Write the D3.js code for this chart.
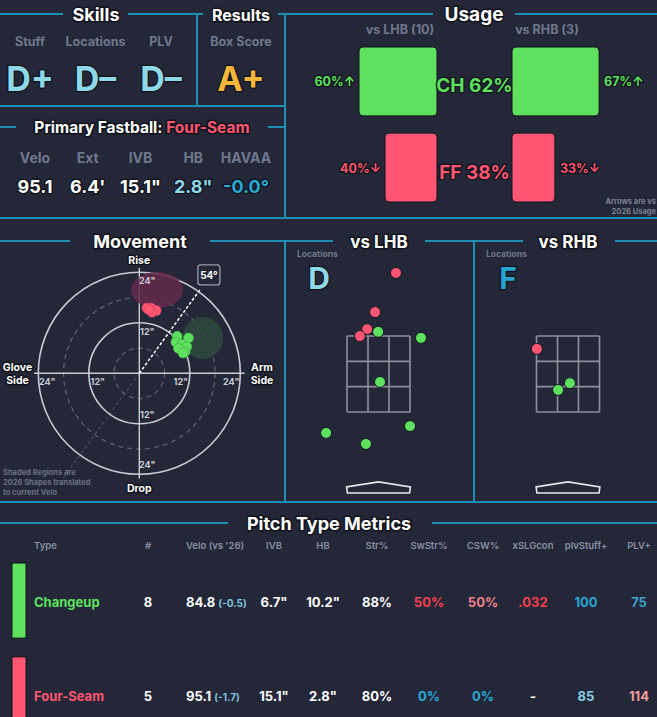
<!DOCTYPE html>
<html>
<head>
<meta charset="utf-8">
<script src="https://cdn.jsdelivr.net/npm/d3@7"></script>
<style>
body { margin: 0; background: #232738; }
svg { display: block; font-family: Inter, "Noto Sans", sans-serif; font-weight: 700; }
.ttl { fill: #fff; stroke: #11131b; stroke-width: 3px; paint-order: stroke; stroke-linejoin: round; }
.out { stroke: #11131b; stroke-width: 2.5px; paint-order: stroke; stroke-linejoin: round; }
</style>
</head>
<body>
<svg></svg>
<script>
var W = 657, H = 717;
var lineCol = "#1d8fb5", grey = "#6f778c";
var chCol = "#5fe15f", ffCol = "#ff5673";

// skills + results
var skillNames = ["Stuff", "Locations", "PLV"];
var skillGrades = ["D+", "D–", "D–"];
var resultNames = ["Box Score"];
var resultGrades = ["A+"];

// primary fastball
var fbName = "Four-Seam";
var fbStats = ["Velo", "Ext", "IVB", "HB", "HAVAA"];
var fbValues = ["95.1", "6.4'", "15.1\"", "2.8\"", "-0.0°"];

// usage (%)
var usagePitches = ["CH", "FF"];
var usageAll = [62, 38];
var usageLHB = [60, 40];
var usageRHB = [67, 33];
var arrowLHB = ["↑", "↓"];
var arrowRHB = ["↑", "↓"];
var countLHB = 10, countRHB = 3;

// movement (inches)
var chHB = [9.0, 11.7, 8.7, 10.1, 11.3, 9.3, 10.9, 10.4];
var chIVB = [8.8, 8.4, 7.4, 6.9, 6.3, 5.9, 5.1, 4.8];
var ffHB = [1.8, 2.8, 4.0, 3.0, 2.3];
var ffIVB = [15.5, 15.5, 14.9, 14.5, 15.1];
// shaded 2026 shapes: center hb, ivb, half widths
var shapePitches = ["FF", "CH"];
var shapeHB = [4.2, 15.1];
var shapeIVB = [19.8, 8.4];
var shapeRx = [6.2, 4.8];
var shapeRy = [4.3, 5.0];
var armAngle = 54;

// locations (feet)
var lhbType = ["FF", "FF", "FF", "FF", "CH", "CH", "CH", "CH", "CH", "CH"];
var lhbX = [0.46, -0.09, -0.30, -0.49, -0.01, 1.12, 0.04, -1.38, -0.33, 0.83];
var lhbZ = [5.16, 4.13, 3.68, 3.50, 3.61, 3.45, 2.29, 0.95, 0.66, 1.13];
var rhbType = ["FF", "CH", "CH"];
var rhbX = [-0.82, -0.26, 0.05];
var rhbZ = [3.16, 2.08, 2.26];
var locGrades = ["D", "F"];

// pitch type metrics
var tableHeaders = ["Type", "#", "Velo (vs '26)", "IVB", "HB", "Str%", "SwStr%", "CSW%", "xSLGcon", "plvStuff+", "PLV+"];
var pitchTypes = ["Changeup", "Four-Seam"];
var pitchCounts = ["8", "5"];
var pitchVelo = ["84.8", "95.1"];
var veloDiff = ["(-0.5)", "(-1.7)"];
var pitchIVB = ["6.7\"", "15.1\""];
var pitchHB = ["10.2\"", "2.8\""];
var strPct = ["88%", "80%"];
var swStrPct = ["50%", "0%"];
var cswPct = ["50%", "0%"];
var xSLGcon = [".032", "-"];
var plvStuff = ["100", "85"];
var plvPlus = ["75", "114"];

var pitchColor = { CH: chCol, FF: ffCol, Changeup: chCol, "Four-Seam": ffCol };

var svg = d3.select("svg").attr("width", W).attr("height", H);
svg.append("rect").attr("width", W).attr("height", H).attr("fill", "#232738");

function txt(x, y, s, size, fill, anchor, cls) {
	return svg.append("text")
		.attr("x", x).attr("y", y)
		.attr("font-size", size)
		.attr("fill", fill)
		.attr("text-anchor", anchor || "middle")
		.attr("class", cls || null)
		.text(s);
}

// frame lines
var segs = [
	[0, 14, 63, 14], [128, 14, 203, 14], [278, 14, 433, 14], [515, 14, 657, 14],
	[197, 14, 197, 106], [285, 14, 285, 218], [0, 106, 285, 106],
	[0, 127, 16, 127], [268, 127, 285, 127], [0, 218, 657, 218],
	[0, 241, 70, 241], [210, 241, 333, 241], [425, 241, 523, 241], [615, 241, 657, 241],
	[285, 241, 285, 502], [474, 241, 474, 502], [0, 502, 657, 502],
	[0, 523, 228, 523], [432, 523, 657, 523]
];
svg.selectAll("line.frame")
	.data(segs)
	.enter()
	.append("line")
	.attr("class", "frame")
	.attr("x1", function(d) { return d[0]; })
	.attr("y1", function(d) { return d[1]; })
	.attr("x2", function(d) { return d[2]; })
	.attr("y2", function(d) { return d[3]; })
	.attr("stroke", lineCol)
	.attr("stroke-width", 2);

// section titles
txt(96, 21, "Skills", 18, "#fff", "middle", "ttl");
txt(241, 21, "Results", 16, "#fff", "middle", "ttl");
txt(474, 21, "Usage", 19, "#fff", "middle", "ttl");
txt(140, 248, "Movement", 18, "#fff", "middle", "ttl");
txt(379, 248, "vs LHB", 17, "#fff", "middle", "ttl");
txt(568, 248, "vs RHB", 17, "#fff", "middle", "ttl");
txt(329, 530, "Pitch Type Metrics", 18, "#fff", "middle", "ttl");

// skills
var skillX = d3.scalePoint().domain(skillNames).range([30, 161]);
skillNames.forEach(function(n, i) {
	txt(skillX(n), 46, n, 12.5, grey);
	txt(skillX(n), 91, skillGrades[i], 34, "#8fd8ea", "middle", "out");
});
resultNames.forEach(function(n, i) {
	txt(241, 46, n, 12.5, grey);
	txt(241, 91, resultGrades[i], 34, "#f5b73b", "middle", "out");
});

// primary fastball
var pf = txt(142, 133, "", 15.5, "#fff", "middle", "ttl");
pf.append("tspan").text("Primary Fastball: ");
pf.append("tspan").attr("fill", ffCol).text(fbName);
var fbX = d3.scalePoint().domain(fbStats).range([35, 246]);
var fbColors = ["#fff", "#fff", "#fff", "#8fd8ea", "#2aa9d6"];
fbStats.forEach(function(n, i) {
	txt(fbX(n), 163, n, 14, grey);
	txt(fbX(n), 193, fbValues[i], 18, fbColors[i], "middle", "out");
});

// usage
var uW = d3.scaleLinear().domain([0, 100]).range([0, 130]);
var uY = d3.scaleBand().domain(usagePitches).range([47, 202]).paddingInner(0.2);
txt(400, 34, "vs LHB (" + countLHB + ")", 12.5, grey);
txt(547, 34, "vs RHB (" + countRHB + ")", 12.5, grey);

svg.selectAll("rect.ul")
	.data(usagePitches)
	.enter()
	.append("rect")
	.attr("class", "ul")
	.attr("x", function(d, i) { return 437 - uW(usageLHB[i]); })
	.attr("y", function(d) { return uY(d); })
	.attr("width", function(d, i) { return uW(usageLHB[i]); })
	.attr("height", uY.bandwidth())
	.attr("rx", 4)
	.attr("fill", function(d) { return pitchColor[d]; })
	.attr("stroke", "#11131b")
	.attr("stroke-width", 1);

svg.selectAll("rect.ur")
	.data(usagePitches)
	.enter()
	.append("rect")
	.attr("class", "ur")
	.attr("x", 512)
	.attr("y", function(d) { return uY(d); })
	.attr("width", function(d, i) { return uW(usageRHB[i]); })
	.attr("height", uY.bandwidth())
	.attr("rx", 4)
	.attr("fill", function(d) { return pitchColor[d]; })
	.attr("stroke", "#11131b")
	.attr("stroke-width", 1);

usagePitches.forEach(function(p, i) {
	var cy = uY(p) + uY.bandwidth() / 2;
	txt(474.5, cy + 11, p + " " + usageAll[i] + "%", 19, pitchColor[p], "middle", "out");
	txt(437 - uW(usageLHB[i]) - 4, cy + 5, usageLHB[i] + "%" + arrowLHB[i], 12.5, pitchColor[p], "end", "out");
	txt(512 + uW(usageRHB[i]) + 5, cy + 5, usageRHB[i] + "%" + arrowRHB[i], 12.5, pitchColor[p], "start", "out");
});
txt(656, 204, "Arrows are vs", 7.5, "#7a8092", "end");
txt(656, 214, "2026 Usage", 7.5, "#7a8092", "end");

// movement plot
var mcx = 139.3, mcy = 373.3;
var rS = d3.scaleLinear().domain([0, 24]).range([0, 101]);
var mv = svg.append("g");

mv.append("line")
	.attr("x1", mcx).attr("y1", mcy)
	.attr("x2", mcx - rS(31) * Math.cos(armAngle * Math.PI / 180))
	.attr("y2", mcy + rS(31) * Math.sin(armAngle * Math.PI / 180))
	.attr("stroke", "#ffffff").attr("stroke-opacity", 0.18)
	.attr("stroke-dasharray", "3,3").attr("stroke-width", 1.2);

[6, 18].forEach(function(v) {
	mv.append("circle").attr("cx", mcx).attr("cy", mcy).attr("r", rS(v))
		.attr("fill", "none").attr("stroke", "#5d6272").attr("stroke-width", 1.3)
		.attr("stroke-dasharray", "5,4");
});
[12, 24].forEach(function(v) {
	mv.append("circle").attr("cx", mcx).attr("cy", mcy).attr("r", rS(v))
		.attr("fill", "none").attr("stroke", "#c9cbd3").attr("stroke-width", 1.6);
});
mv.append("line").attr("x1", mcx - rS(25)).attr("x2", mcx + rS(25)).attr("y1", mcy).attr("y2", mcy)
	.attr("stroke", "#c9cbd3").attr("stroke-width", 1.4);
mv.append("line").attr("x1", mcx).attr("x2", mcx).attr("y1", mcy - rS(25)).attr("y2", mcy + rS(25))
	.attr("stroke", "#c9cbd3").attr("stroke-width", 1.4);

mv.selectAll("ellipse")
	.data(shapePitches)
	.enter()
	.append("ellipse")
	.attr("cx", function(d, i) { return mcx + rS(shapeHB[i]); })
	.attr("cy", function(d, i) { return mcy - rS(shapeIVB[i]); })
	.attr("rx", function(d, i) { return rS(shapeRx[i]); })
	.attr("ry", function(d, i) { return rS(shapeRy[i]); })
	.attr("fill", function(d) { return d === "FF" ? "#62294a" : "#2e4a3c"; })
	.attr("fill-opacity", 0.88);

[12, 24].forEach(function(v) {
	var o = rS(v) - 9;
	txt(mcx - o, mcy + 12, v + "\"", 9, "#c9cbd3");
	txt(mcx + o, mcy + 12, v + "\"", 9, "#c9cbd3");
	txt(mcx + 8, mcy - o + 3, v + "\"", 9, "#c9cbd3");
	txt(mcx + 8, mcy + o + 3, v + "\"", 9, "#c9cbd3");
});

var ax = mcx + rS(24.5) * Math.cos(armAngle * Math.PI / 180);
var ay = mcy - rS(24.5) * Math.sin(armAngle * Math.PI / 180);
mv.append("line").attr("x1", mcx).attr("y1", mcy).attr("x2", ax).attr("y2", ay)
	.attr("stroke", "#ffffff").attr("stroke-width", 1.5).attr("stroke-dasharray", "3,2");
svg.append("rect").attr("x", ax - 2).attr("y", ay - 25).attr("width", 22).attr("height", 20).attr("rx", 3)
	.attr("fill", "#232738").attr("stroke", "#9a9eaa").attr("stroke-width", 1.3);
txt(ax + 9, ay - 11, armAngle + "°", 10, "#fff");

mv.selectAll("circle.ff")
	.data(ffHB)
	.enter()
	.append("circle")
	.attr("class", "ff")
	.attr("cx", function(d) { return mcx + rS(d); })
	.attr("cy", function(d, i) { return mcy - rS(ffIVB[i]); })
	.attr("r", 5)
	.attr("fill", ffCol)
	.attr("stroke", "#c8405a").attr("stroke-width", 0.6);

mv.selectAll("circle.ch")
	.data(chHB)
	.enter()
	.append("circle")
	.attr("class", "ch")
	.attr("cx", function(d) { return mcx + rS(d); })
	.attr("cy", function(d, i) { return mcy - rS(chIVB[i]); })
	.attr("r", 5)
	.attr("fill", chCol)
	.attr("stroke", "#3fae3f").attr("stroke-width", 0.6);

txt(mcx, 264, "Rise", 10.5, "#fff", "middle", "ttl");
txt(mcx, 492, "Drop", 10.5, "#fff", "middle", "ttl");
txt(17.5, 371, "Glove", 10.5, "#fff", "middle", "ttl");
txt(17.5, 384, "Side", 10.5, "#fff", "middle", "ttl");
txt(262, 371, "Arm", 10.5, "#fff", "middle", "ttl");
txt(262, 384, "Side", 10.5, "#fff", "middle", "ttl");
txt(3, 475, "Shaded Regions are", 7.5, "#6b7183", "start");
txt(3, 485, "2026 Shapes translated", 7.5, "#6b7183", "start");
txt(3, 495, "to current Velo", 7.5, "#6b7183", "start");

// location panels
function locPanel(cx, types, xs, zs, grade, gradeCol, gx) {
	var x = d3.scaleLinear().domain([-0.83, 0.83]).range([cx - 31.5, cx + 31.5]);
	var y = d3.scaleLinear().domain([1.5, 3.5]).range([412, 336]);
	var g = svg.append("g");
	var gx3 = [-0.83, -0.83 + 1.66 / 3, -0.83 + 3.32 / 3, 0.83];
	var gz3 = [1.5, 1.5 + 2 / 3, 1.5 + 4 / 3, 3.5];
	gx3.forEach(function(v) {
		g.append("line").attr("x1", x(v)).attr("x2", x(v)).attr("y1", y(3.5)).attr("y2", y(1.5))
			.attr("stroke", "#8d909c").attr("stroke-width", 1.6);
	});
	gz3.forEach(function(v) {
		g.append("line").attr("x1", x(-0.83)).attr("x2", x(0.83)).attr("y1", y(v)).attr("y2", y(v))
			.attr("stroke", "#8d909c").attr("stroke-width", 1.6);
	});
	var plate = [[-0.84, -0.47], [0, -0.34], [0.84, -0.47], [0.82, -0.63], [-0.82, -0.63]];
	g.append("polygon")
		.attr("points", plate.map(function(p) { return x(p[0]) + "," + y(p[1]); }).join(" "))
		.attr("fill", "none").attr("stroke", "#e6e6ea").attr("stroke-width", 1.6);
	g.selectAll("circle")
		.data(types)
		.enter()
		.append("circle")
		.attr("cx", function(d, i) { return x(xs[i]); })
		.attr("cy", function(d, i) { return y(zs[i]); })
		.attr("r", 5.5)
		.attr("fill", function(d) { return pitchColor[d]; })
		.attr("stroke", "#161923").attr("stroke-width", 1);
	txt(gx - 22, 257, "Locations", 8.5, grey, "start");
	txt(gx, 289, grade, 30, gradeCol, "middle", "out");
}
locPanel(378.5, lhbType, lhbX, lhbZ, locGrades[0], "#8fd8ea", 319);
locPanel(568, rhbType, rhbX, rhbZ, locGrades[1], "#27a3d2", 508);

// pitch type metrics table
var colX = [34, 148, 215, 274, 323, 377, 429, 483, 533, 586, 639];
tableHeaders.forEach(function(h, i) {
	txt(colX[i], 549, h, 9.5, "#8a90a2", i === 0 ? "start" : "middle").attr("font-weight", 600);
});

var rowY = d3.scaleBand().domain(pitchTypes).range([563, 732]).paddingInner(0.2);
svg.selectAll("rect.pbar")
	.data(pitchTypes)
	.enter()
	.append("rect")
	.attr("class", "pbar")
	.attr("x", 12)
	.attr("y", function(d) { return rowY(d); })
	.attr("width", 14)
	.attr("height", rowY.bandwidth())
	.attr("fill", function(d) { return pitchColor[d]; })
	.attr("stroke", "#11131b").attr("stroke-width", 1);

var cellCols = [
	["#fff", "#fff", "#fff", "#fff", "#f2404f", "#f08288", "#f2404f", "#2aa6d6", "#3fa2cc"],
	["#fff", "#fff", "#fff", "#fff", "#29a8d8", "#29a8d8", "#fff", "#86cde2", "#f39c9c"]
];
pitchTypes.forEach(function(p, i) {
	var by = rowY(p) + 44;
	txt(colX[0], by, p, 13, pitchColor[p], "start");
	var v = txt(186, by, "", 13, "#fff", "start");
	v.append("tspan").text(pitchVelo[i] + " ");
	v.append("tspan").attr("font-size", 10).attr("fill", "#7fc0dc").text(veloDiff[i]);
	var vals = [pitchCounts[i], pitchIVB[i], pitchHB[i], strPct[i], swStrPct[i], cswPct[i], xSLGcon[i], plvStuff[i], plvPlus[i]];
	var cols = [1, 3, 4, 5, 6, 7, 8, 9, 10];
	vals.forEach(function(s, j) {
		txt(colX[cols[j]], by, s, 13, cellCols[i][j]);
	});
});
</script>
</body>
</html>
